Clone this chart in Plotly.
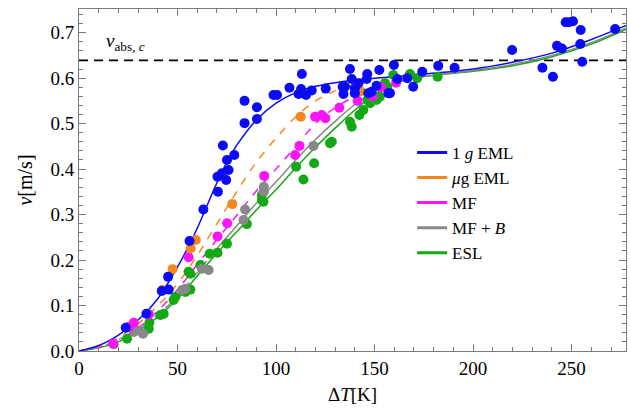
import plotly.graph_objects as go

# ---------------- data ----------------
curve_x_blue = [0, 10, 20, 30, 40, 50, 55, 60, 65, 70, 75, 80, 90, 100, 110, 120, 130, 140, 150, 170, 200, 220, 240, 260, 280]
curve_y_blue = [0, 0.012, 0.035, 0.068, 0.115, 0.185, 0.225, 0.27, 0.32, 0.37, 0.415, 0.452, 0.508, 0.545, 0.568,
                0.582, 0.59, 0.596, 0.6, 0.607, 0.62, 0.635, 0.655, 0.685, 0.72]

curve_x_orange = [0, 10, 20, 30, 40, 50, 60, 70, 80, 90, 100, 110, 120, 130, 140, 150]
curve_y_orange = [0, 0.01, 0.03, 0.06, 0.1, 0.148, 0.21, 0.28, 0.35, 0.415, 0.468, 0.515, 0.55, 0.572, 0.585, 0.595]

curve_x_mf = [0, 10, 20, 30, 40, 50, 60, 70, 80, 90, 100, 110, 120, 130, 140, 150]
curve_y_mf = [0, 0.008, 0.025, 0.05, 0.088, 0.135, 0.19, 0.245, 0.298, 0.352, 0.4, 0.45, 0.5, 0.535, 0.56, 0.58]

curve_x_mfb_dash = [0, 10, 20, 30, 40, 50, 60, 66]
curve_y_mfb_dash = [0, 0.008, 0.025, 0.048, 0.08, 0.12, 0.172, 0.204]
curve_x_mfb = [66, 70, 80, 90, 100, 110, 120, 130, 140, 150, 160, 170, 180, 200, 220, 240, 260, 280]
curve_y_mfb = [0.204, 0.225, 0.275, 0.325, 0.372, 0.42, 0.465, 0.505, 0.542, 0.572, 0.59, 0.6, 0.607, 0.617, 0.63,
               0.65, 0.678, 0.715]

curve_x_esl = [0, 10, 20, 30, 40, 50, 60, 70, 80, 90, 100, 110, 120, 130, 140, 150, 160, 170, 180, 200, 220, 240, 260, 280]
curve_y_esl = [0, 0.007, 0.02, 0.045, 0.075, 0.115, 0.165, 0.215, 0.262, 0.31, 0.355, 0.403, 0.448, 0.49, 0.53,
               0.565, 0.588, 0.6, 0.606, 0.615, 0.627, 0.647, 0.675, 0.712]

pts_x_blue = [23.7, 34.2, 42.0, 45.5, 45.2, 56.1, 63.1, 70.5, 70.3, 72.5, 73.0, 74.7, 75.1, 75.9, 78.8, 84.0, 84.0,
              90.3, 90.3, 98.7, 100.5, 106.8, 111.4, 113.1, 112.7, 115.2, 118.1, 125.2, 133.8, 134.2, 135.0, 137.5,
              138.4, 140.0, 140.0, 141.8, 146.3, 146.0, 146.8, 148.5, 151.0, 152.4, 157.0, 157.8, 159.8, 161.5,
              166.6, 169.6, 174.2, 182.3, 190.6, 219.8, 235.2, 240.5, 242.6, 245.1, 247.0, 248.6, 250.7, 254.6,
              254.4, 255.4, 272.1]
pts_y_blue = [0.051, 0.082, 0.132, 0.135, 0.163, 0.242, 0.311, 0.35, 0.383, 0.391, 0.452, 0.376, 0.42, 0.398, 0.431,
              0.55, 0.501, 0.536, 0.51, 0.563, 0.563, 0.579, 0.565, 0.609, 0.576, 0.563, 0.573, 0.577, 0.581, 0.565,
              0.581, 0.62, 0.598, 0.578, 0.567, 0.589, 0.609, 0.598, 0.567, 0.57, 0.583, 0.618, 0.567, 0.567, 0.629,
              0.598, 0.6, 0.581, 0.614, 0.627, 0.623, 0.662, 0.623, 0.603, 0.671, 0.665, 0.723, 0.723, 0.725, 0.706,
              0.675, 0.636, 0.708]

pts_x_orange = [42.3, 47.5, 56.7, 59.3, 77.8, 112.5, 143.0]
pts_y_orange = [0.134, 0.18, 0.226, 0.244, 0.323, 0.515, 0.571]

pts_x_mf = [17.3, 25.2, 27.8, 35.4, 55.6, 70.3, 75.2, 94.0, 109.7, 111.9, 119.8, 123.2, 125.0, 132.1, 141.4, 149.0,
            153.3, 160.9]
pts_y_mf = [0.016, 0.053, 0.062, 0.08, 0.206, 0.252, 0.281, 0.385, 0.431, 0.451, 0.515, 0.519, 0.512, 0.535, 0.55,
            0.56, 0.58, 0.59]

pts_x_mfb = [27.8, 30.5, 32.5, 52.3, 54.0, 62.4, 65.8, 83.5, 84.3, 93.8, 93.8, 119.0]
pts_y_mfb = [0.042, 0.045, 0.038, 0.134, 0.137, 0.181, 0.178, 0.288, 0.311, 0.35, 0.361, 0.451]

pts_x_esl = [17.6, 24.4, 35.4, 35.7, 41.3, 43.0, 48.0, 48.9, 54.0, 56.5, 56.5, 55.6, 61.6, 66.3, 70.3, 75.1, 85.2,
             92.8, 92.8, 93.6, 110.2, 113.9, 119.3, 127.4, 128.3, 137.5, 138.4, 142.3, 144.3, 146.5, 147.7, 151.0,
             152.7, 155.3, 156.4, 159.5, 168.0, 171.6, 182.0]
pts_y_esl = [0.015, 0.027, 0.049, 0.062, 0.079, 0.082, 0.112, 0.119, 0.13, 0.135, 0.17, 0.174, 0.189, 0.214, 0.216,
             0.236, 0.279, 0.343, 0.332, 0.328, 0.405, 0.377, 0.413, 0.457, 0.46, 0.504, 0.493, 0.519, 0.53, 0.552,
             0.545, 0.552, 0.559, 0.589, 0.58, 0.607, 0.609, 0.6, 0.603]

v_abs_c = 0.639
x_ticks = [0, 50, 100, 150, 200, 250]
y_ticks = [0.0, 0.1, 0.2, 0.3, 0.4, 0.5, 0.6, 0.7]

legend_names = ["1 <i>g</i> EML", "<i>μ</i>g EML", "MF", "MF + <i>B</i>", "ESL"]

# ---------------- styling ----------------
C_BLUE = "#0b0bf5"
C_ORANGE = "#f7871c"
C_MAG = "#fb14f5"
C_GRAY = "#888888"
C_GREEN = "#14a814"
FONT = "Liberation Serif"

fig = go.Figure()

fig.add_trace(go.Scatter(x=[0, 280], y=[v_abs_c, v_abs_c], mode="lines",
                         line=dict(color="black", width=1.6, dash="9px,6px"), showlegend=False, hoverinfo="skip"))

fig.add_trace(go.Scatter(x=curve_x_esl, y=curve_y_esl, mode="lines", line=dict(color=C_GREEN, width=1.5, shape="spline"),
                         showlegend=False))
fig.add_trace(go.Scatter(x=curve_x_mfb_dash, y=curve_y_mfb_dash, mode="lines",
                         line=dict(color=C_GRAY, width=1.5, dash="7px,7px", shape="spline"), showlegend=False))
fig.add_trace(go.Scatter(x=curve_x_mfb, y=curve_y_mfb, mode="lines", line=dict(color=C_GRAY, width=1.5, shape="spline"),
                         showlegend=False))
fig.add_trace(go.Scatter(x=curve_x_mf, y=curve_y_mf, mode="lines",
                         line=dict(color=C_MAG, width=1.5, dash="8px,8px", shape="spline"), showlegend=False))
fig.add_trace(go.Scatter(x=curve_x_orange, y=curve_y_orange, mode="lines",
                         line=dict(color=C_ORANGE, width=1.5, dash="8px,8px", shape="spline"), showlegend=False))
fig.add_trace(go.Scatter(x=curve_x_blue, y=curve_y_blue, mode="lines", line=dict(color=C_BLUE, width=1.5, shape="spline"),
                         showlegend=False))

for xs, ys, c in [(pts_x_esl, pts_y_esl, C_GREEN), (pts_x_mfb, pts_y_mfb, C_GRAY), (pts_x_mf, pts_y_mf, C_MAG),
                  (pts_x_orange, pts_y_orange, C_ORANGE), (pts_x_blue, pts_y_blue, C_BLUE)]:
    fig.add_trace(go.Scatter(x=xs, y=ys, mode="markers", marker=dict(color=c, size=10, line=dict(width=0)),
                             showlegend=False))

for name, c in zip(legend_names, [C_BLUE, C_ORANGE, C_MAG, C_GRAY, C_GREEN]):
    fig.add_trace(go.Scatter(x=[None], y=[None], mode="lines", line=dict(color=c, width=3), name=name,
                             showlegend=True))

fig.add_annotation(x=23.5, y=0.68, xref="x", yref="y", text="<i>v</i><sub>abs, <i>c</i></sub>", showarrow=False,
                   font=dict(family=FONT, size=19, color="black"), bgcolor="white")

axis_common = dict(showline=True, linecolor="#7a7a7a", linewidth=1, mirror="ticks", ticks="inside",
                   tickcolor="#7a7a7a", ticklen=7, tickwidth=1, showgrid=False, zeroline=False,
                   tickfont=dict(family=FONT, size=19, color="black"))

fig.update_xaxes(range=[0, 277.6], tickvals=x_ticks, ticktext=[str(v) for v in x_ticks],
                 minor=dict(dtick=10, tick0=0, ticks="inside", ticklen=4, tickcolor="#7a7a7a"),
                 title=dict(text="Δ<i>T</i>[K]", font=dict(family=FONT, size=19, color="black"), standoff=9),
                 **axis_common)
fig.update_yaxes(range=[0, 0.752], tickvals=y_ticks, ticktext=[f"{v:.1f}" for v in y_ticks],
                 minor=dict(dtick=0.02, tick0=0, ticks="inside", ticklen=4, tickcolor="#7a7a7a"),
                 title=dict(text="<i>v</i>[m/s]", font=dict(family=FONT, size=20, color="black"), standoff=12),
                 **axis_common)

fig.update_layout(
    width=631, height=414,
    margin=dict(l=78.5, r=5, t=9.3, b=63.3),
    paper_bgcolor="white", plot_bgcolor="white",
    font=dict(family=FONT, size=19, color="black"),
    legend=dict(x=0.609, y=0.632, xanchor="left", yanchor="top", bgcolor="rgba(255,255,255,0.85)",
                font=dict(family=FONT, size=17, color="black"), itemwidth=30),
    showlegend=True,
)

fig.write_html("out.html")
